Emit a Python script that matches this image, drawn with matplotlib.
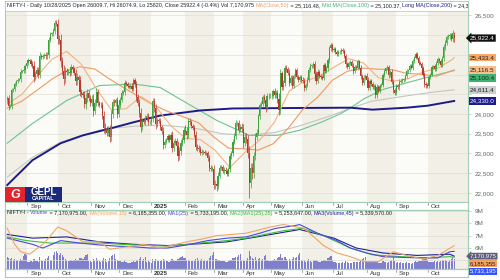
# -*- coding: utf-8 -*-
"""NIFTY-I daily candles with moving averages and a volume panel (StockCharts look) -> out.png"""
import numpy as np
import matplotlib
matplotlib.use('Agg')
import matplotlib.pyplot as plt
import matplotlib.transforms as mtrans
from matplotlib.patches import Rectangle
from matplotlib.font_manager import FontProperties

plt.rcParams['font.family'] = ['Liberation Sans', 'DejaVu Sans']

# --- daily closes, one list per month (Aug 12 2024 .. Oct 28 2025) ---
close_aug24 = [24400, 24190, 24200, 24600, 24630, 24760, 24830, 24870, 24880, 25070, 25080, 25110, 25210, 25300]
close_sep24 = [25360, 25350, 25270, 25220, 24930, 25010, 25120, 24990, 25470, 25440, 25470, 25500, 25460, 25500,
               25880, 26030, 26040, 26100, 26310, 26280, 25900]
close_oct24 = [25880, 25330, 25100, 24880, 25090, 25060, 25070, 25040, 25200, 25130, 25050, 24830, 24930, 24860,
               24550, 24510, 24470, 24250, 24410, 24540, 24410, 24280]
close_nov24 = [24380, 24070, 24290, 24560, 24280, 24230, 24220, 23960, 23640, 23610, 23530, 23600, 23430, 23990,
               24300, 24270, 24350, 24000, 24220]
close_dec24 = [24360, 24540, 24550, 24790, 24760, 24700, 24690, 24720, 24630, 24850, 24750, 24420, 24280, 24030,
               23670, 23830, 23810, 23900, 23960, 23790, 23790]
close_jan25 = [23880, 24320, 24140, 23750, 23840, 23820, 23660, 23560, 23220, 23300, 23340, 23440, 23330, 23470,
               23150, 23270, 23320, 23200, 22940, 23060, 23270, 23330, 23600]
close_feb25 = [23580, 23460, 23830, 23790, 23700, 23650, 23470, 23170, 23140, 23120, 23020, 23050, 23040, 23020,
               23000, 22880, 22630, 22620, 22620, 22200]
close_mar25 = [22220, 22180, 22430, 22640, 22650, 22560, 22590, 22560, 22490, 22600, 22930, 23010, 23290, 23450,
               23760, 23770, 23600, 23680, 23620]
close_apr25 = [23270, 23430, 23360, 23000, 22260, 22630, 22500, 22930, 23420, 23530, 23950, 24220, 24260, 24420,
               24350, 24160, 24450, 24460, 24460]
close_may25 = [24460, 24570, 24490, 24520, 24380, 24110, 25030, 24690, 24780, 25170, 25130, 25050, 24790, 24920,
               24720, 24960, 25110, 24930, 24860, 24930, 24870]
close_jun25 = [24840, 24660, 24740, 24870, 25120, 25220, 25220, 25260, 25010, 24840, 25070, 24970, 24930, 24910,
               25230, 25090, 25160, 25360, 25660, 25750, 25630]
close_jul25 = [25650, 25560, 25510, 25570, 25570, 25630, 25590, 25470, 25260, 25190, 25300, 25320, 25220, 25080,
               25200, 25170, 25330, 25170, 24950, 24790, 24920, 24960, 24870]
close_aug25 = [24670, 24830, 24760, 24680, 24700, 24470, 24690, 24590, 24720, 24740, 24990, 25090, 25160, 25190,
               24980, 25070, 24820, 24600, 24530]
close_sep25 = [24720, 24680, 24820, 24840, 24850, 24880, 24970, 25080, 25110, 25220, 25170, 25340, 25430, 25520,
               25430, 25300, 25270, 25160, 25000, 24750, 24730, 24720]
close_oct25 = [24940, 25000, 25180, 25210, 25150, 25290, 25390, 25330, 25240, 25420, 25690, 25810, 25950, 25970,
               25990, 25890, 26060, 25922.4]

# --- wick beyond the candle body (points) ---
wick_aug24 = [60, 90, 50, 70, 40, 50, 40, 45, 35, 60, 40, 50, 60, 55]
wick_sep24 = [50, 40, 45, 60, 110, 70, 60, 80, 90, 50, 40, 45, 70, 60, 80, 50, 45, 70, 80, 60, 120]
wick_oct24 = [110, 150, 120, 140, 100, 70, 60, 80, 60, 50, 60, 90, 100, 70, 90, 80, 60, 110, 120, 100, 80, 70]
wick_nov24 = [90, 120, 80, 100, 70, 60, 70, 90, 110, 120, 80, 90, 130, 120, 80, 70, 60, 90, 70]
wick_dec24 = [80, 60, 50, 80, 50, 40, 40, 50, 60, 50, 60, 80, 90, 110, 130, 70, 60, 80, 70, 60, 50]
wick_jan25 = [60, 90, 80, 120, 70, 60, 70, 60, 110, 70, 60, 60, 50, 70, 110, 80, 60, 70, 120, 100, 90, 80, 70]
wick_feb25 = [120, 90, 60, 60, 50, 50, 60, 90, 80, 70, 60, 60, 50, 60, 50, 70, 80, 70, 60, 100]
wick_mar25 = [110, 120, 90, 60, 70, 60, 70, 60, 60, 70, 70, 60, 70, 60, 80, 60, 70, 60, 80]
wick_apr25 = [120, 80, 90, 110, 200, 130, 140, 110, 90, 80, 60, 70, 60, 60, 80, 100, 70, 60, 60]
wick_may25 = [70, 60, 80, 80, 90, 140, 120, 70, 80, 80, 60, 70, 80, 60, 70, 60, 60, 50, 60, 60, 50]
wick_jun25 = [60, 70, 50, 60, 70, 60, 50, 50, 70, 90, 60, 50, 50, 60, 60, 60, 60, 60, 70, 60, 50]
wick_jul25 = [50, 40, 50, 40, 40, 50, 40, 50, 60, 50, 40, 50, 40, 60, 40, 50, 60, 40, 70, 60, 60, 50, 70]
wick_aug25 = [70, 50, 60, 50, 60, 70, 60, 50, 50, 40, 60, 50, 40, 40, 60, 50, 60, 70, 60]
wick_sep25 = [50, 50, 60, 40, 50, 40, 40, 50, 40, 40, 40, 50, 40, 50, 50, 50, 40, 50, 60, 70, 60, 50]
wick_oct25 = [60, 50, 50, 40, 50, 50, 50, 40, 60, 60, 70, 60, 60, 50, 60, 50, 60, 60]

# --- daily volume (millions) ---
vol_aug24 = [8.2, 7.5, 6.9, 7.8, 6.4, 6.8, 6.1, 6.5, 5.9, 7.0, 6.6, 8.9, 10.5, 9.4]
vol_sep24 = [5.2, 4.8, 5.6, 5.1, 7.2, 5.9, 5.3, 5.0, 8.1, 6.2, 5.4, 5.7, 6.8, 7.9, 9.2, 6.5, 6.1, 9.8, 11.6, 12.4, 10.8]
vol_oct24 = [9.6, 11.2, 9.8, 8.4, 7.1, 6.2, 5.8, 5.5, 6.0, 5.4, 6.3, 7.2, 6.1, 6.6, 7.5, 7.9, 6.8, 8.6, 9.9, 10.2,
             5.5, 5.9]
vol_nov24 = [5.1, 6.8, 5.9, 7.4, 6.2, 5.3, 4.9, 6.1, 7.3, 6.9, 5.2, 5.6, 7.8, 8.9, 9.6, 10.4, 7.1, 6.0, 5.4]
vol_dec24 = [5.3, 5.1, 4.6, 6.4, 5.2, 4.5, 4.2, 4.4, 4.9, 5.8, 4.7, 6.1, 6.6, 7.0, 8.3, 6.2, 6.9, 8.4, 5.1, 5.6, 4.8]
vol_jan25 = [4.3, 6.9, 5.5, 6.8, 5.4, 5.3, 5.6, 6.1, 7.2, 6.0, 5.4, 5.7, 5.0, 5.3, 6.9, 6.0, 5.5, 5.8, 7.1, 7.6,
             8.5, 9.3, 7.4]
vol_feb25 = [7.9, 6.6, 6.1, 5.8, 5.6, 5.9, 5.7, 7.0, 7.3, 6.4, 6.2, 6.8, 5.9, 6.1, 5.8, 6.6, 7.4, 8.8, 9.5, 11.8]
vol_mar25 = [7.2, 6.8, 6.4, 6.3, 5.5, 5.8, 5.9, 5.2, 5.0, 5.4, 6.5, 6.6, 7.8, 7.4, 8.1, 8.6, 9.9, 10.6, 6.2]
vol_apr25 = [6.5, 5.6, 6.0, 7.8, 12.8, 9.1, 7.6, 7.2, 8.4, 6.3, 7.1, 7.9, 6.4, 6.8, 8.9, 9.6, 6.0, 5.4, 5.7]
vol_may25 = [5.8, 6.3, 6.9, 6.5, 7.8, 8.1, 10.2, 7.4, 6.0, 8.5, 6.7, 5.4, 6.9, 5.8, 7.2, 8.0, 7.6, 8.4, 9.7, 10.9, 6.2]
vol_jun25 = [5.8, 6.0, 5.2, 5.4, 6.8, 5.6, 5.1, 5.4, 6.3, 6.5, 5.5, 4.9, 5.0, 5.3, 6.4, 6.1, 5.9, 7.4, 8.6, 9.1, 6.0]
vol_jul25 = [4.6, 4.9, 4.4, 4.3, 3.9, 4.2, 4.6, 4.5, 5.3, 4.7, 4.1, 4.4, 4.5, 4.9, 4.6, 4.8, 5.1, 5.2, 6.3, 7.0,
             7.8, 8.6, 5.0]
vol_aug25 = [5.5, 4.8, 4.6, 5.0, 5.4, 5.6, 4.9, 4.5, 4.4, 4.3, 5.7, 4.6, 4.8, 4.5, 5.0, 5.6, 6.4, 8.2, 5.9]
vol_sep25 = [4.2, 4.6, 4.3, 4.9, 4.5, 3.9, 4.1, 4.6, 4.4, 4.2, 3.8, 4.5, 4.9, 5.4, 5.1, 5.3, 5.5, 5.9, 6.8, 7.9,
             8.3, 6.1]
vol_oct25 = [5.0, 5.2, 4.9, 5.1, 5.3, 4.8, 5.7, 5.1, 5.5, 6.2, 6.6, 6.0, 5.4, 4.9, 6.1, 7.0, 8.1, 7.170975]

first_open = 24350
last_ohlc = (26009.7, 26074.9, 25820, 25922.4)
apr7_low = 21870

month_labels = ['Sep', 'Oct', 'Nov', 'Dec', '2025', 'Feb', 'Mar', 'Apr', 'May', 'Jun', 'Jul', 'Aug', 'Sep', 'Oct']

# price tick labels that show (the rest sit under the value boxes) and volume ones
price_ticks = [22000, 22500, 23000, 23500, 24000, 26500]
vol_ticks = [6, 7, 8, 9]

# --- moving averages (bar index, value) ---
ma20_x = [0, 10, 20, 30, 40, 50, 60, 70, 80, 90, 100, 110, 120, 130, 140, 150, 160, 170, 180, 190, 200, 210,
          220, 230, 240, 250, 260, 270, 280, 290, 300, 301]
ma20_y = [24250, 24500, 24950, 25383, 25586, 25255, 24642, 24108, 24132, 24444, 24196, 23708, 23385, 23354,
          23082, 22646, 23026, 23334, 23794, 24587, 24823, 24956, 25185, 25401, 25290, 24919, 24829, 24892,
          25066, 25160, 25386, 25433.4]
ma50_x = [0, 10, 20, 30, 40, 49, 59, 69, 79, 89, 99, 109, 119, 129, 139, 149, 159, 169, 179, 189, 199, 209,
          219, 229, 239, 249, 259, 269, 279, 289, 301]
ma50_y = [24150, 24330, 24600, 24880, 25100, 25195, 25139, 24883, 24653, 24432, 24219, 24052, 23923, 23774,
          23419, 23136, 23118, 23086, 23244, 23629, 24110, 24422, 24856, 25080, 25163, 25136, 25122, 25028,
          25007, 24956, 25116.5]
ma100_x = [0, 17, 40, 62, 85, 103, 118, 141, 163, 182, 197, 212, 224, 231, 240, 253, 269, 287, 301]
ma100_y = [23260, 23760, 24340, 24720, 24760, 24670, 24340, 23840, 23460, 23460, 23590, 23800, 24000, 24150,
           24380, 24620, 24790, 24970, 25100.4]
ma150_x = [0, 17, 36, 62, 70, 89, 103, 125, 145, 162, 180, 197, 215, 231, 245, 269, 288, 301]
ma150_y = [22400, 22900, 23290, 23590, 23640, 23700, 23720, 23650, 23500, 23460, 23530, 23700, 23920, 24140,
           24320, 24460, 24560, 24611.4]
ma200_x = [0, 17, 36, 51, 69, 85, 103, 130, 152, 186, 231, 246, 269, 283, 301]
ma200_y = [22200, 22830, 23260, 23460, 23630, 23790, 23960, 24090, 24140, 24150, 24160, 24110, 24160, 24210,
           24330.0]

# volume averages (millions)
vma15_x = [0, 5, 9, 15, 25, 34, 40, 51, 62, 69, 81, 92, 103, 121, 130, 141, 161, 177, 186, 200, 213, 222, 231,
           240, 250, 260, 269, 280, 290, 301]
vma15_y = [7.6, 6.3, 5.7, 5.5, 6.4, 7.7, 7.4, 6.5, 6.5, 5.9, 6.1, 6.3, 6.0, 6.5, 6.7, 7.0, 7.2, 7.7, 7.9, 7.6,
           6.2, 5.6, 5.3, 4.9, 4.9, 5.7, 5.4, 5.1, 5.4, 6.19]
vma25_x = [0, 17, 24, 36, 49, 62, 74, 85, 96, 108, 121, 135, 148, 161, 170, 181, 193, 197, 209, 222, 231, 242,
           253, 276, 290, 298, 301]
vma25_y = [6.8, 6.3, 6.0, 6.6, 6.4, 6.25, 6.15, 6.1, 6.0, 6.0, 6.25, 6.6, 6.8, 6.9, 7.2, 7.6, 7.8, 7.9, 7.2,
           6.6, 6.0, 5.6, 5.3, 5.2, 5.2, 5.7, 5.73]
vma35_x = [0, 13, 29, 44, 62, 85, 108, 130, 148, 161, 186, 199, 213, 231, 246, 265, 283, 298, 301]
vma35_y = [6.9, 6.6, 6.4, 6.4, 6.4, 6.25, 6.15, 6.4, 6.6, 6.8, 7.4, 7.6, 7.0, 6.0, 5.45, 5.3, 5.2, 5.3, 5.25]
vma45_x = [0, 17, 40, 62, 85, 108, 130, 148, 168, 197, 220, 235, 253, 276, 298, 301]
vma45_y = [7.1, 6.8, 6.9, 6.5, 6.3, 6.2, 6.35, 6.5, 6.9, 7.5, 6.8, 6.0, 5.6, 5.4, 5.5, 5.34]

# values printed in the right-hand boxes
vol_box_vals = [7170975, 6185355, 5733195]

# --- colours ---
UP, DOWN = '#3da33d', '#b8392b'
C_MA20, C_MA50, C_MA100, C_MA150, C_MA200 = '#f5b27e', '#ef9a62', '#6cc495', '#c4c4c4', '#1c1c86'
C_V15, C_V25, C_V35, C_V45 = '#f2a463', '#4a4ae0', '#3cc03c', '#20209a'
EDGE = '#9fd0b4'
BANDS = ['#f1efe6', '#fbfbf8']
TXT = '#222222'

# ---------------- assemble the series ----------------
closes_m = [close_aug24, close_sep24, close_oct24, close_nov24, close_dec24, close_jan25, close_feb25,
            close_mar25, close_apr25, close_may25, close_jun25, close_jul25, close_aug25, close_sep25, close_oct25]
wicks_m = [wick_aug24, wick_sep24, wick_oct24, wick_nov24, wick_dec24, wick_jan25, wick_feb25, wick_mar25,
           wick_apr25, wick_may25, wick_jun25, wick_jul25, wick_aug25, wick_sep25, wick_oct25]
vols_m = [vol_aug24, vol_sep24, vol_oct24, vol_nov24, vol_dec24, vol_jan25, vol_feb25, vol_mar25, vol_apr25,
          vol_may25, vol_jun25, vol_jul25, vol_aug25, vol_sep25, vol_oct25]

close = np.array(sum(closes_m, []), dtype=float)
wick = np.array(sum(wicks_m, []), dtype=float)
vol = np.array(sum(vols_m, []), dtype=float)
starts = np.cumsum([0] + [len(m) for m in closes_m])[:-1]
x = np.arange(len(close))

opens = np.r_[first_open, close[:-1]]
opens[-1] = last_ohlc[0]
hi = np.maximum(opens, close) + wick
lo = np.minimum(opens, close) - wick
hi[-1], lo[-1] = last_ohlc[1], last_ohlc[2]
lo[starts[8] + 4] = apr7_low          # Apr 7 crash low

XL = (-1.5, 310.3)

# ---------------- figure / axes in pixel layout ----------------
W, H = 500, 280
fig = plt.figure(figsize=(W / 100, H / 100), dpi=100)
fig.patch.set_facecolor('white')


def box(x0, y0, x1, y1):
    return [x0 / W, 1 - y1 / H, (x1 - x0) / W, (y1 - y0) / H]


ax = fig.add_axes(box(5, 1, 468, 202))
axd1 = fig.add_axes(box(5, 202, 468, 210))
axv = fig.add_axes(box(5, 210, 468, 269))
axd2 = fig.add_axes(box(5, 269, 468, 277))
axvm = axv.twinx()


def bands(a):
    edges = list(starts) + [XL[1] + 0.5]
    edges[0] = XL[0] + 0.5
    for k in range(len(starts)):
        a.axvspan(edges[k] - 0.5, edges[k + 1] - 0.5, color=BANDS[k % 2], lw=0, zorder=0)


for a in (ax, axd1, axv, axd2, axvm):
    a.set_xlim(*XL)
    for s in a.spines.values():
        s.set_color(EDGE)
        s.set_linewidth(0.8)

# ---------------- price panel ----------------
bands(ax)
ax.set_ylim(21772, 26861)
ax.set_yticks(np.arange(22000, 27000, 500))
ax.yaxis.tick_right()
ax.yaxis.set_major_formatter(plt.FuncFormatter(lambda v, p: f'{v:,.0f}' if v in price_ticks else ''))
ax.tick_params(axis='y', length=2, width=0.5, color=EDGE, labelsize=4.6, labelcolor='#5d6e60', pad=3)
ax.set_xticks([])
ax.grid(axis='y', color='#e0e0d8', lw=0.5)
ax.set_axisbelow(True)

ax.plot(ma150_x, ma150_y, color=C_MA150, lw=0.8, zorder=2)
ax.plot(ma100_x, ma100_y, color=C_MA100, lw=0.8, zorder=2)
ax.plot(ma200_x, ma200_y, color=C_MA200, lw=1.4, zorder=2)
ax.plot(ma50_x, ma50_y, color=C_MA50, lw=0.8, zorder=2)
ax.plot(ma20_x, ma20_y, color=C_MA20, lw=0.8, zorder=2)

cols = np.where(close >= opens, UP, DOWN)
ax.vlines(x, lo, hi, colors=cols, lw=0.5, zorder=4)
body = np.where(np.abs(close - opens) < 8, 8, close - opens)
ax.bar(x, body, bottom=opens, width=0.8, color=cols, lw=0, zorder=5)

# title strip
ax.add_patch(Rectangle((0, 1 - 10 / 201), 1, 10 / 201, transform=ax.transAxes, fc='white', ec=EDGE,
                       lw=0.5, zorder=6))
FS = 3.88
fp = FontProperties(family=['Liberation Sans', 'DejaVu Sans'], size=FS)


def pieces_line(a, x0, y0, pieces):
    r = fig.canvas.get_renderer()
    bar_w = r.get_text_width_height_descent('|', fp, ismath=False)[0]
    for s, c in pieces:
        a.text(x0, y0, s, color=c, fontproperties=fp, transform=a.transAxes, va='center', ha='left',
               clip_on=True, zorder=7)
        w = r.get_text_width_height_descent(s + '|', fp, ismath=False)[0] - bar_w
        x0 += w / a.bbox.width


pieces_line(ax, 0.004, 1 - 5 / 201, [
    ('NIFTY-I - Daily 10/28/2025 Open 26009.7, Hi 26074.9, Lo 25820, Close 25922.4 (-0.4%) Vol 7,170,975 ', TXT),
    ('MA(Close,50)', C_MA50), (' = 25,116.48, ', TXT), ('Mid MA(Close,100)', '#3cb46e'), (' = 25,100.37, ', TXT),
    ('Long MA(Close,200)', C_MA200), (' = 24,330.04', TXT)])

# value boxes on the right edge, pushed apart so they do not overlap
lab = [(close[-1], '#111111', 'white', 'larrow'), (ma20_y[-1], '#f7a867', TXT, 'square'),
       (ma50_y[-1], '#f9be8c', TXT, 'square'), (ma100_y[-1], '#3fb472', TXT, 'square'),
       (ma150_y[-1], '#cfcfcf', TXT, 'square'), (ma200_y[-1], '#1c1c8c', 'white', 'square')]
gap = 8 * (26861 - 21772) / 201
ypos = []
for v, *_ in lab:
    y = v if not ypos else min(v, ypos[-1] - gap)
    ypos.append(y)
tr = mtrans.blended_transform_factory(ax.transAxes, ax.transData)
for (v, fc, tc, st), y in zip(lab, ypos):
    ax.text(1.004, y, f'{v:,.1f}', transform=tr, fontsize=4.6, color=tc, va='center', ha='left',
            clip_on=False, zorder=10, bbox=dict(boxstyle=f'{st},pad=0.18', fc=fc, ec='none'))

# logo
fig.patches.append(Rectangle((5 / W, 1 - 202 / H), 20 / W, 15 / H, transform=fig.transFigure,
                             fc='#e0262c', ec='none', zorder=20))
fig.patches.append(Rectangle((25 / W, 1 - 202 / H), 37 / W, 15 / H, transform=fig.transFigure,
                             fc='#1b2a7c', ec='none', zorder=20))
fig.text(15 / W, 1 - 195 / H, 'G', color='white', fontsize=9, fontweight='bold', style='italic',
         ha='center', va='center', zorder=21)
fig.text(43.5 / W, 1 - 192 / H, 'GEPL', color='white', fontsize=7, fontweight='bold',
         ha='center', va='center', zorder=21)
fig.text(43.5 / W, 1 - 199 / H, 'CAPITAL', color='white', fontsize=3.8, fontweight='bold',
         ha='center', va='center', zorder=21)

# ---------------- date strips ----------------
for a in (axd1, axd2):
    a.set_ylim(0, 1)
    a.set_xticks([])
    a.set_yticks([])
    a.set_facecolor('white')
    for k, s in enumerate(starts[1:]):
        a.plot([s - 0.5, s - 0.5], [0.6, 1], color='#8a8a8a', lw=0.5)
        a.text(s + 1.5, 0.45, month_labels[k], fontsize=4.5, color='#333333', va='center', ha='left',
               fontweight='bold' if month_labels[k] == '2025' else 'normal')

# ---------------- volume panel ----------------
bands(axv)
axv.set_ylim(0, 41)
axv.set_xticks([])
axv.set_yticks([])
axv.bar(x, vol, width=0.8, color='#7f7fcb', lw=0, zorder=2)

axvm.set_ylim(4.30, 9.08)
axvm.set_yticks([5, 6, 7, 8, 9])
axvm.yaxis.set_major_formatter(plt.FuncFormatter(lambda v, p: f'{v:.0f}M' if round(v) in vol_ticks else ''))
axvm.tick_params(axis='y', length=2, width=0.5, color=EDGE, labelsize=4.6, labelcolor='#5d6e60', pad=3)
axvm.grid(axis='y', color='#e0e0d8', lw=0.5)
axvm.plot(vma45_x, vma45_y, color=C_V45, lw=0.8, zorder=3)
axvm.plot(vma35_x, vma35_y, color=C_V35, lw=0.8, zorder=3)
axvm.plot(vma25_x, vma25_y, color=C_V25, lw=0.8, zorder=3)
axvm.plot(vma15_x, vma15_y, color=C_V15, lw=0.8, zorder=3)

pieces_line(axvm, 0.004, 1 - 3 / 59, [
    ('NIFTY-I - ', TXT), ('Volume', '#5050c0'), (' = 7,170,975.00, ', TXT), ('MA(Volume,15)', C_V15),
    (' = 6,185,355.00, ', TXT), ('MA1(25)', C_V25), (' = 5,733,195.00, ', TXT), ('MA2(MA1(25),35)', C_V35),
    (' = 5,253,647.00, ', TXT), ('MA3(Volume,45)', C_V45), (' = 5,339,570.00', TXT)])

# volume boxes: first at the bar height, then stacked underneath
vb_style = [('#5e5e7e', 'white', 'larrow'), ('#f5a25d', TXT, 'square'), ('#3355ff', 'white', 'square')]
y0 = vol[-1] / 41 + 2.5 / 59
for k, (v, (fc, tc, st)) in enumerate(zip(vol_box_vals, vb_style)):
    axvm.text(1.004, y0 - k * 7.5 / 59, f'{v:,.0f}', transform=axvm.transAxes, fontsize=4.3, color=tc,
              va='center', ha='left', clip_on=False, zorder=10,
              bbox=dict(boxstyle=f'{st},pad=0.15', fc=fc, ec='none'))

fig.savefig('out.png', dpi=100)
